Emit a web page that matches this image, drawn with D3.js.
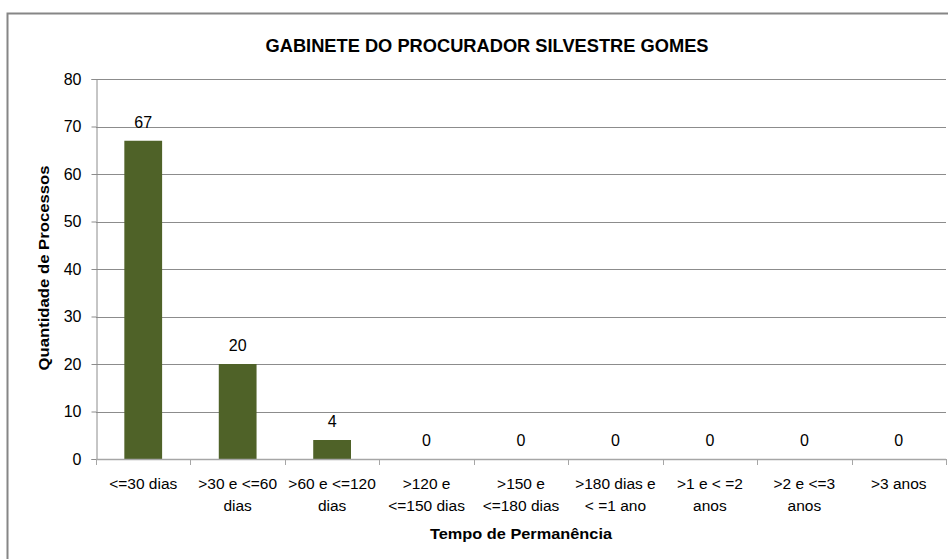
<!DOCTYPE html>
<html><head><meta charset="utf-8">
<script src="https://cdn.jsdelivr.net/npm/d3@7"></script>
<style>body{margin:0;background:#fff}svg{display:block}text{font-family:"Liberation Sans",Arial,sans-serif;fill:#000}</style>
</head><body><svg id="c" width="948" height="559"></svg>
<script>
const title = "GABINETE DO PROCURADOR SILVESTRE GOMES";
const categories = [["<=30 dias"],[">30 e <=60","dias"],[">60 e <=120","dias"],[">120 e","<=150 dias"],[">150 e","<=180 dias"],[">180 dias e","< =1 ano"],[">1 e < =2","anos"],[">2 e <=3","anos"],[">3 anos"]];
const values = [67,20,4,0,0,0,0,0,0];
const yTicks = [0,10,20,30,40,50,60,70,80];
const xTitle = "Tempo de Permanência";
const yTitle = "Quantidade de Processos";

const svg = d3.select("#c");
const L=96,R=946,T=79,B=459;
svg.append("rect").attr("x",7.5).attr("y",13.5).attr("width",950).attr("height",560).attr("fill","#fff").attr("stroke","#868686").attr("stroke-width",2);

const x = d3.scaleBand().domain(d3.range(categories.length)).range([L,R]).paddingInner(0.6).paddingOuter(0.3);
const y = d3.scaleLinear().domain([0,80]).range([B,T]);

// gridlines
svg.append("g").selectAll("line").data(yTicks.filter(d=>d>0)).join("line")
 .attr("x1",L).attr("x2",R).attr("y1",d=>Math.round(y(d))+0.5).attr("y2",d=>Math.round(y(d))+0.5)
 .attr("stroke","#8c8c8c").attr("stroke-width",1);

// y axis
const ya = svg.append("g").attr("transform",`translate(${L+0.5},0)`).call(d3.axisLeft(y).tickValues(yTicks).tickSize(5).tickPadding(10));
ya.selectAll("path,line").attr("stroke","#8c8c8c");
ya.selectAll("text").style("font-size","16px").style("font-family","Liberation Sans, Arial").attr("fill","#000");

// bars
svg.append("g").selectAll("rect").data(values).join("rect")
 .attr("x",(d,i)=>x(i)).attr("width",x.bandwidth())
 .attr("y",d=>y(d)).attr("height",d=>B-y(d)).attr("fill","#4F6228");

// x axis line and ticks
const step = (R-L)/categories.length;
const xa = svg.append("g");
xa.append("line").attr("x1",L).attr("x2",R).attr("y1",B+0.5).attr("y2",B+0.5).attr("stroke","#a6a6a6").attr("stroke-width",1.5);
xa.selectAll("line.t").data(d3.range(categories.length+1)).join("line").attr("class","t")
 .attr("x1",i=>Math.round(L+i*step)+0.5).attr("x2",i=>Math.round(L+i*step)+0.5).attr("y1",B).attr("y2",B+6).attr("stroke","#a6a6a6");

// category labels
const cl = svg.append("g").selectAll("text").data(categories).join("text")
 .attr("x",(d,i)=>x(i)+x.bandwidth()/2).attr("y",489).attr("text-anchor","middle").style("font-size","15.5px");
cl.each(function(d){
  const t=d3.select(this);
  d.forEach((s,k)=>t.append("tspan").attr("x",t.attr("x")).attr("dy",k?22:0).text(s));
});

// value labels
svg.append("g").selectAll("text").data(values).join("text")
 .attr("x",(d,i)=>x(i)+x.bandwidth()/2).attr("y",d=>y(d)-13).attr("text-anchor","middle")
 .style("font-size","16px").text(d=>d);

// titles
svg.append("text").attr("x",487).attr("y",52).attr("text-anchor","middle").style("font-size","19px").style("font-weight","bold").attr("textLength",443).attr("lengthAdjust","spacingAndGlyphs").text(title);
svg.append("text").attr("x",521).attr("y",539).attr("text-anchor","middle").style("font-size","15px").style("font-weight","bold").attr("textLength",182).attr("lengthAdjust","spacingAndGlyphs").text(xTitle);
svg.append("text").attr("transform","translate(49,268) rotate(-90)").attr("text-anchor","middle").style("font-size","15px").style("font-weight","bold").attr("textLength",205).attr("lengthAdjust","spacingAndGlyphs").text(yTitle);
</script></body></html>
